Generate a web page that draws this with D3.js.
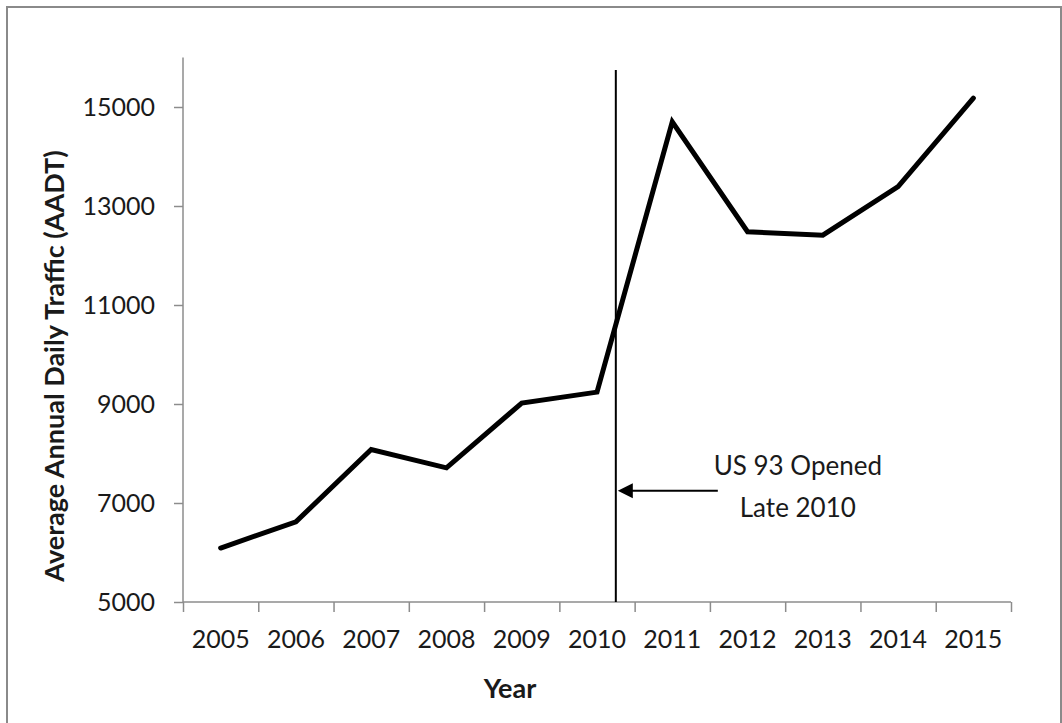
<!DOCTYPE html>
<html>
<head>
<meta charset="utf-8">
<script src="https://cdn.jsdelivr.net/npm/d3@7"></script>
<style>
  html, body { margin: 0; padding: 0; background: #fff; }
  svg { display: block; }
  text { font-family: Lato, "Open Sans", sans-serif; fill: #1a1a1a; }
</style>
</head>
<body>
<svg id="chart" width="1062" height="723"></svg>
<script>
const years = [2005, 2006, 2007, 2008, 2009, 2010, 2011, 2012, 2013, 2014, 2015];
const aadt = [6090, 6620, 8080, 7710, 9020, 9240, 14700, 12480, 12410, 13390, 15180];
const yTicks = [5000, 7000, 9000, 11000, 13000, 15000];
const openingYear = 2010.25;
const annotationLines = ["US 93 Opened", "Late 2010"];
const yTitle = "Average Annual Daily Traffic (AADT)";
const xTitle = "Year";

const W = 1062, H = 723;
const svg = d3.select("#chart");

// outer frame
svg.append("rect").attr("x", 7).attr("y", 7).attr("width", 1054).attr("height", 722)
  .attr("fill", "none").attr("stroke", "#8a8a8a").attr("stroke-width", 2);

const x = d3.scaleLinear().domain([years[0] - 0.5, years[years.length - 1] + 0.5]).range([183, 1011]);
const y = d3.scaleLinear().domain([5000, 16000]).range([602, 57.5]);

const axisColor = "#8c8c8c";

// y axis
const yAxis = svg.append("g").attr("transform", "translate(183,0)")
  .call(d3.axisLeft(y).tickValues(yTicks).tickSize(9).tickPadding(19).tickFormat(d3.format("d")));
yAxis.select(".domain").attr("stroke", axisColor).attr("stroke-width", 1.5).attr("d", `M0,${y(16000)}V${y(5000)}`);
yAxis.selectAll(".tick line").attr("stroke", axisColor).attr("stroke-width", 1.5);
yAxis.selectAll(".tick text").attr("font-size", 25).attr("font-family", "Lato").attr("fill", "#1a1a1a");

// x axis: ticks between categories
const boundaries = d3.range(years[0] - 0.5, years[years.length - 1] + 1, 1);
const xAxis = svg.append("g").attr("transform", "translate(0,602)")
  .call(d3.axisBottom(x).tickValues(boundaries).tickSize(10).tickFormat(""));
xAxis.select(".domain").attr("stroke", axisColor).attr("stroke-width", 1.5).attr("d", `M${x.range()[0]},0H${x.range()[1]}`);
xAxis.selectAll(".tick line").attr("stroke", axisColor).attr("stroke-width", 1.5);

// x labels at category centers
svg.append("g").selectAll("text").data(years).join("text")
  .attr("x", d => x(d)).attr("y", 648)
  .attr("text-anchor", "middle").attr("font-size", 25)
  .text(d => d);

// axis titles
svg.append("text").attr("transform", `translate(64,366) rotate(-90)`)
  .attr("text-anchor", "middle").attr("font-size", 27).attr("font-weight", "bold").attr("fill", "#000")
  .text(yTitle);
svg.append("text").attr("x", 510).attr("y", 698)
  .attr("text-anchor", "middle").attr("font-size", 27).attr("font-weight", "bold").attr("fill", "#000")
  .text(xTitle);

// data line
const line = d3.line().x((d, i) => x(years[i])).y(d => y(d));
svg.append("path").datum(aadt).attr("d", line)
  .attr("fill", "none").attr("stroke", "#000").attr("stroke-width", 5)
  .attr("stroke-linejoin", "miter").attr("stroke-linecap", "round");

// vertical opening line
svg.append("line").attr("x1", x(openingYear)).attr("x2", x(openingYear))
  .attr("y1", y(15750)).attr("y2", y(5000))
  .attr("stroke", "#000").attr("stroke-width", 2);

// arrow
const arrowY = y(7250);
const arrowTipX = x(openingYear) + 2;
const arrowStartX = arrowTipX + 100;
svg.append("line").attr("x1", arrowStartX).attr("x2", arrowTipX + 12)
  .attr("y1", arrowY).attr("y2", arrowY).attr("stroke", "#000").attr("stroke-width", 2);
svg.append("path")
  .attr("d", `M${arrowTipX},${arrowY}L${arrowTipX + 15},${arrowY - 7.5}L${arrowTipX + 15},${arrowY + 7.5}Z`)
  .attr("fill", "#000");

// annotation text
svg.append("g").selectAll("text").data(annotationLines).join("text")
  .attr("x", arrowStartX + 80).attr("y", (d, i) => arrowY - 16 + i * 42)
  .attr("text-anchor", "middle").attr("font-size", 26).attr("fill", "#000")
  .text(d => d);
</script>
</body>
</html>
